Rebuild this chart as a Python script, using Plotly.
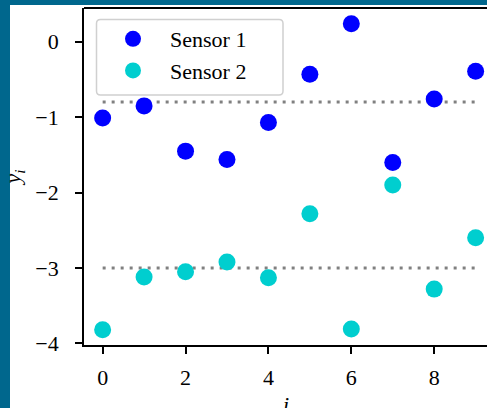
import plotly.graph_objects as go

# Data
idx = [0, 1, 2, 3, 4, 5, 6, 7, 8, 9]
sensor1 = [-1.01, -0.85, -1.45, -1.56, -1.07, -0.43, 0.24, -1.60, -0.76, -0.39]
sensor2 = [-3.82, -3.12, -3.05, -2.92, -3.13, -2.28, -3.81, -1.90, -3.28, -2.60]
levels = [-0.80, -3.00]
xticks = [0, 2, 4, 6, 8]
yticks = [0, -1, -2, -3, -4]

FONT = "Liberation Serif"
W, H = 487, 408
L, R, T, B = 84, 0, 8, 63

fig = go.Figure()

for lv in levels:
    fig.add_trace(go.Scatter(
        x=[min(idx), max(idx)], y=[lv, lv], mode="lines",
        line=dict(color="#808080", width=3, dash="3px,6px"),
        showlegend=False, hoverinfo="skip"))

fig.add_trace(go.Scatter(x=idx, y=sensor1, mode="markers", name="Sensor 1",
                         marker=dict(color="#0000ff", size=17)))
fig.add_trace(go.Scatter(x=idx, y=sensor2, mode="markers", name="Sensor 2",
                         marker=dict(color="#00cecf", size=17)))

pw = W - L - R
ph = H - T - B


def px(x):
    return (x - L) / pw


def py(y):
    return 1 - (y - T) / ph


def rounded_box(x0, y0, x1, y1, r):
    rx, ry = r / pw, r / ph
    X0, X1, Y0, Y1 = px(x0), px(x1), py(y1), py(y0)
    return (f"M {X0+rx},{Y0} L {X1-rx},{Y0} Q {X1},{Y0} {X1},{Y0+ry} "
            f"L {X1},{Y1-ry} Q {X1},{Y1} {X1-rx},{Y1} L {X0+rx},{Y1} "
            f"Q {X0},{Y1} {X0},{Y1-ry} L {X0},{Y0+ry} Q {X0},{Y0} {X0+rx},{Y0} Z")


teal = "#00678d"
shapes = [
    dict(type="rect", xref="paper", yref="paper",
         x0=px(0), x1=px(10), y0=py(H) - 0.01, y1=py(0) + 0.01,
         fillcolor=teal, line=dict(width=0), layer="above"),
    dict(type="rect", xref="paper", yref="paper",
         x0=px(0), x1=1.01, y0=py(5), y1=py(0) + 0.01,
         fillcolor=teal, line=dict(width=0), layer="above"),
    dict(type="line", xref="paper", yref="paper", x0=0, x1=1, y0=1, y1=1,
         line=dict(color="black", width=1.8), layer="above"),
    dict(type="path", xref="paper", yref="paper",
         path=rounded_box(96.5, 19.5, 283, 95, 4),
         fillcolor="white", line=dict(color="#d0d0d0", width=1.5), layer="above"),
]

fig.update_layout(
    width=W, height=H,
    margin=dict(l=L, r=R, t=T, b=B, pad=0, autoexpand=False),
    paper_bgcolor="white", plot_bgcolor="white",
    font=dict(family=FONT, size=22, color="black"),
    shapes=shapes,
    showlegend=True,
    legend=dict(x=px(96), y=py(18), xanchor="left", yanchor="top",
                bgcolor="rgba(0,0,0,0)", borderwidth=0,
                font=dict(family=FONT, size=22), itemwidth=64),
    annotations=[dict(text="<i>i</i>", xref="paper", yref="paper",
                      x=0.5, y=py(390), xanchor="center", yanchor="top",
                      showarrow=False, font=dict(family=FONT, size=22))],
    xaxis=dict(range=[-0.45, 9.274], tickvals=xticks, showgrid=False, zeroline=False,
               showline=True, linecolor="black", linewidth=1.8, automargin=True,
               ticks="outside", ticklen=7, tickwidth=1.5, tickcolor="black",
               ticklabelstandoff=5),
    yaxis=dict(range=[-4.021, 0.448], tickvals=yticks, showgrid=False, zeroline=False,
               showline=True, linecolor="black", linewidth=1.8, automargin=True,
               ticks="outside", ticklen=7, tickwidth=1.5, tickcolor="black",
               ticklabelstandoff=12,
               title=dict(text="<i>y<sub>i</sub></i>", standoff=18, font=dict(size=22))),
)

fig.write_html("out.html")
